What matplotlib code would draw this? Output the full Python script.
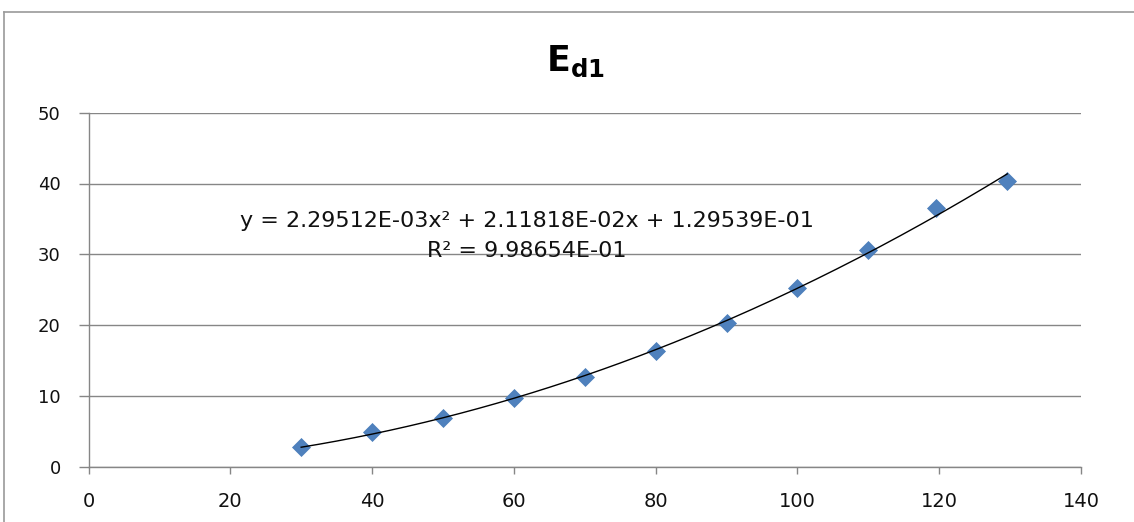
import numpy as np
import matplotlib
matplotlib.use("Agg")
import matplotlib.pyplot as plt
from matplotlib.lines import Line2D

# ---- data ----
x_vals = [30, 40, 50, 60, 70, 80, 90, 100, 110, 119.5, 129.6]
y_vals = [2.74, 4.86, 6.84, 9.66, 12.63, 16.38, 20.25, 25.28, 30.6, 36.5, 40.4]
title_main = "E"
title_sub = "d1"
eq_line1 = "y = 2.29512E-03x² + 2.11818E-02x + 1.29539E-01"
eq_line2 = "R² = 9.98654E-01"
x_ticks = [0, 20, 40, 60, 80, 100, 120, 140]
y_ticks = [0, 10, 20, 30, 40, 50]

W, H = 1134, 522
fig = plt.figure(figsize=(W / 100, H / 100), dpi=100)
fig.patch.set_facecolor("white")

ax = fig.add_axes([88.5 / W, 1 - 466.7 / H, (1081 - 88.5) / W, (466.7 - 112.7) / H])
ax.set_xlim(x_ticks[0], x_ticks[-1])
ax.set_ylim(y_ticks[0], y_ticks[-1])

grid_c = "#868686"
for s in ["top", "right"]:
    ax.spines[s].set_visible(False)
for s in ["left", "bottom"]:
    ax.spines[s].set_color(grid_c)
    ax.spines[s].set_linewidth(1.0)

ax.set_xticks(x_ticks)
ax.set_yticks(y_ticks)
ax.set_xticklabels([str(v) for v in x_ticks])
ax.set_yticklabels([str(v) for v in y_ticks])
ax.tick_params(axis="x", direction="out", length=5, width=1.0, color=grid_c,
               pad=13, labelsize=14, labelcolor="#111111")
ax.tick_params(axis="y", direction="out", length=7, width=1.0, color=grid_c,
               pad=13, labelsize=13, labelcolor="#111111")
for lab in ax.get_xticklabels() + ax.get_yticklabels():
    lab.set_family("DejaVu Sans")

ax.yaxis.grid(True, color=grid_c, linewidth=1.0)
ax.set_axisbelow(True)

# trendline (quadratic fit of the data)
coef = np.polyfit(x_vals, y_vals, 2)
xs = np.linspace(min(x_vals), max(x_vals), 200)
ax.plot(xs, np.polyval(coef, xs), color="black", linewidth=1.0, zorder=4)

# data points
ax.plot(x_vals, y_vals, linestyle="none", marker="D", markersize=9.5,
        markerfacecolor="#4F81BD", markeredgecolor="#4A7EBB", markeredgewidth=0.5,
        zorder=3)

# equation text
fig.text(527 / W, 1 - 227 / H, eq_line1, ha="center", va="baseline",
         fontsize=16, family="DejaVu Sans", color="#111111")
fig.text(527 / W, 1 - 257 / H, eq_line2, ha="center", va="baseline",
         fontsize=16, family="DejaVu Sans", color="#111111")

# title
fig.text(575 / W, 1 - 70.7 / H, r"$\mathbf{%s_{%s}}$" % (title_main, title_sub),
         ha="center", va="baseline", fontsize=25, color="black")

# outer chart border (left and top visible)
fig.add_artist(Line2D([4 / W, 4 / W], [0, 1 - 12 / H], transform=fig.transFigure,
                      color="#9a9a9a", linewidth=1.2))
fig.add_artist(Line2D([4 / W, 1], [1 - 12 / H, 1 - 12 / H], transform=fig.transFigure,
                      color="#9a9a9a", linewidth=1.2))

fig.savefig("out.png", dpi=100, facecolor="white")
